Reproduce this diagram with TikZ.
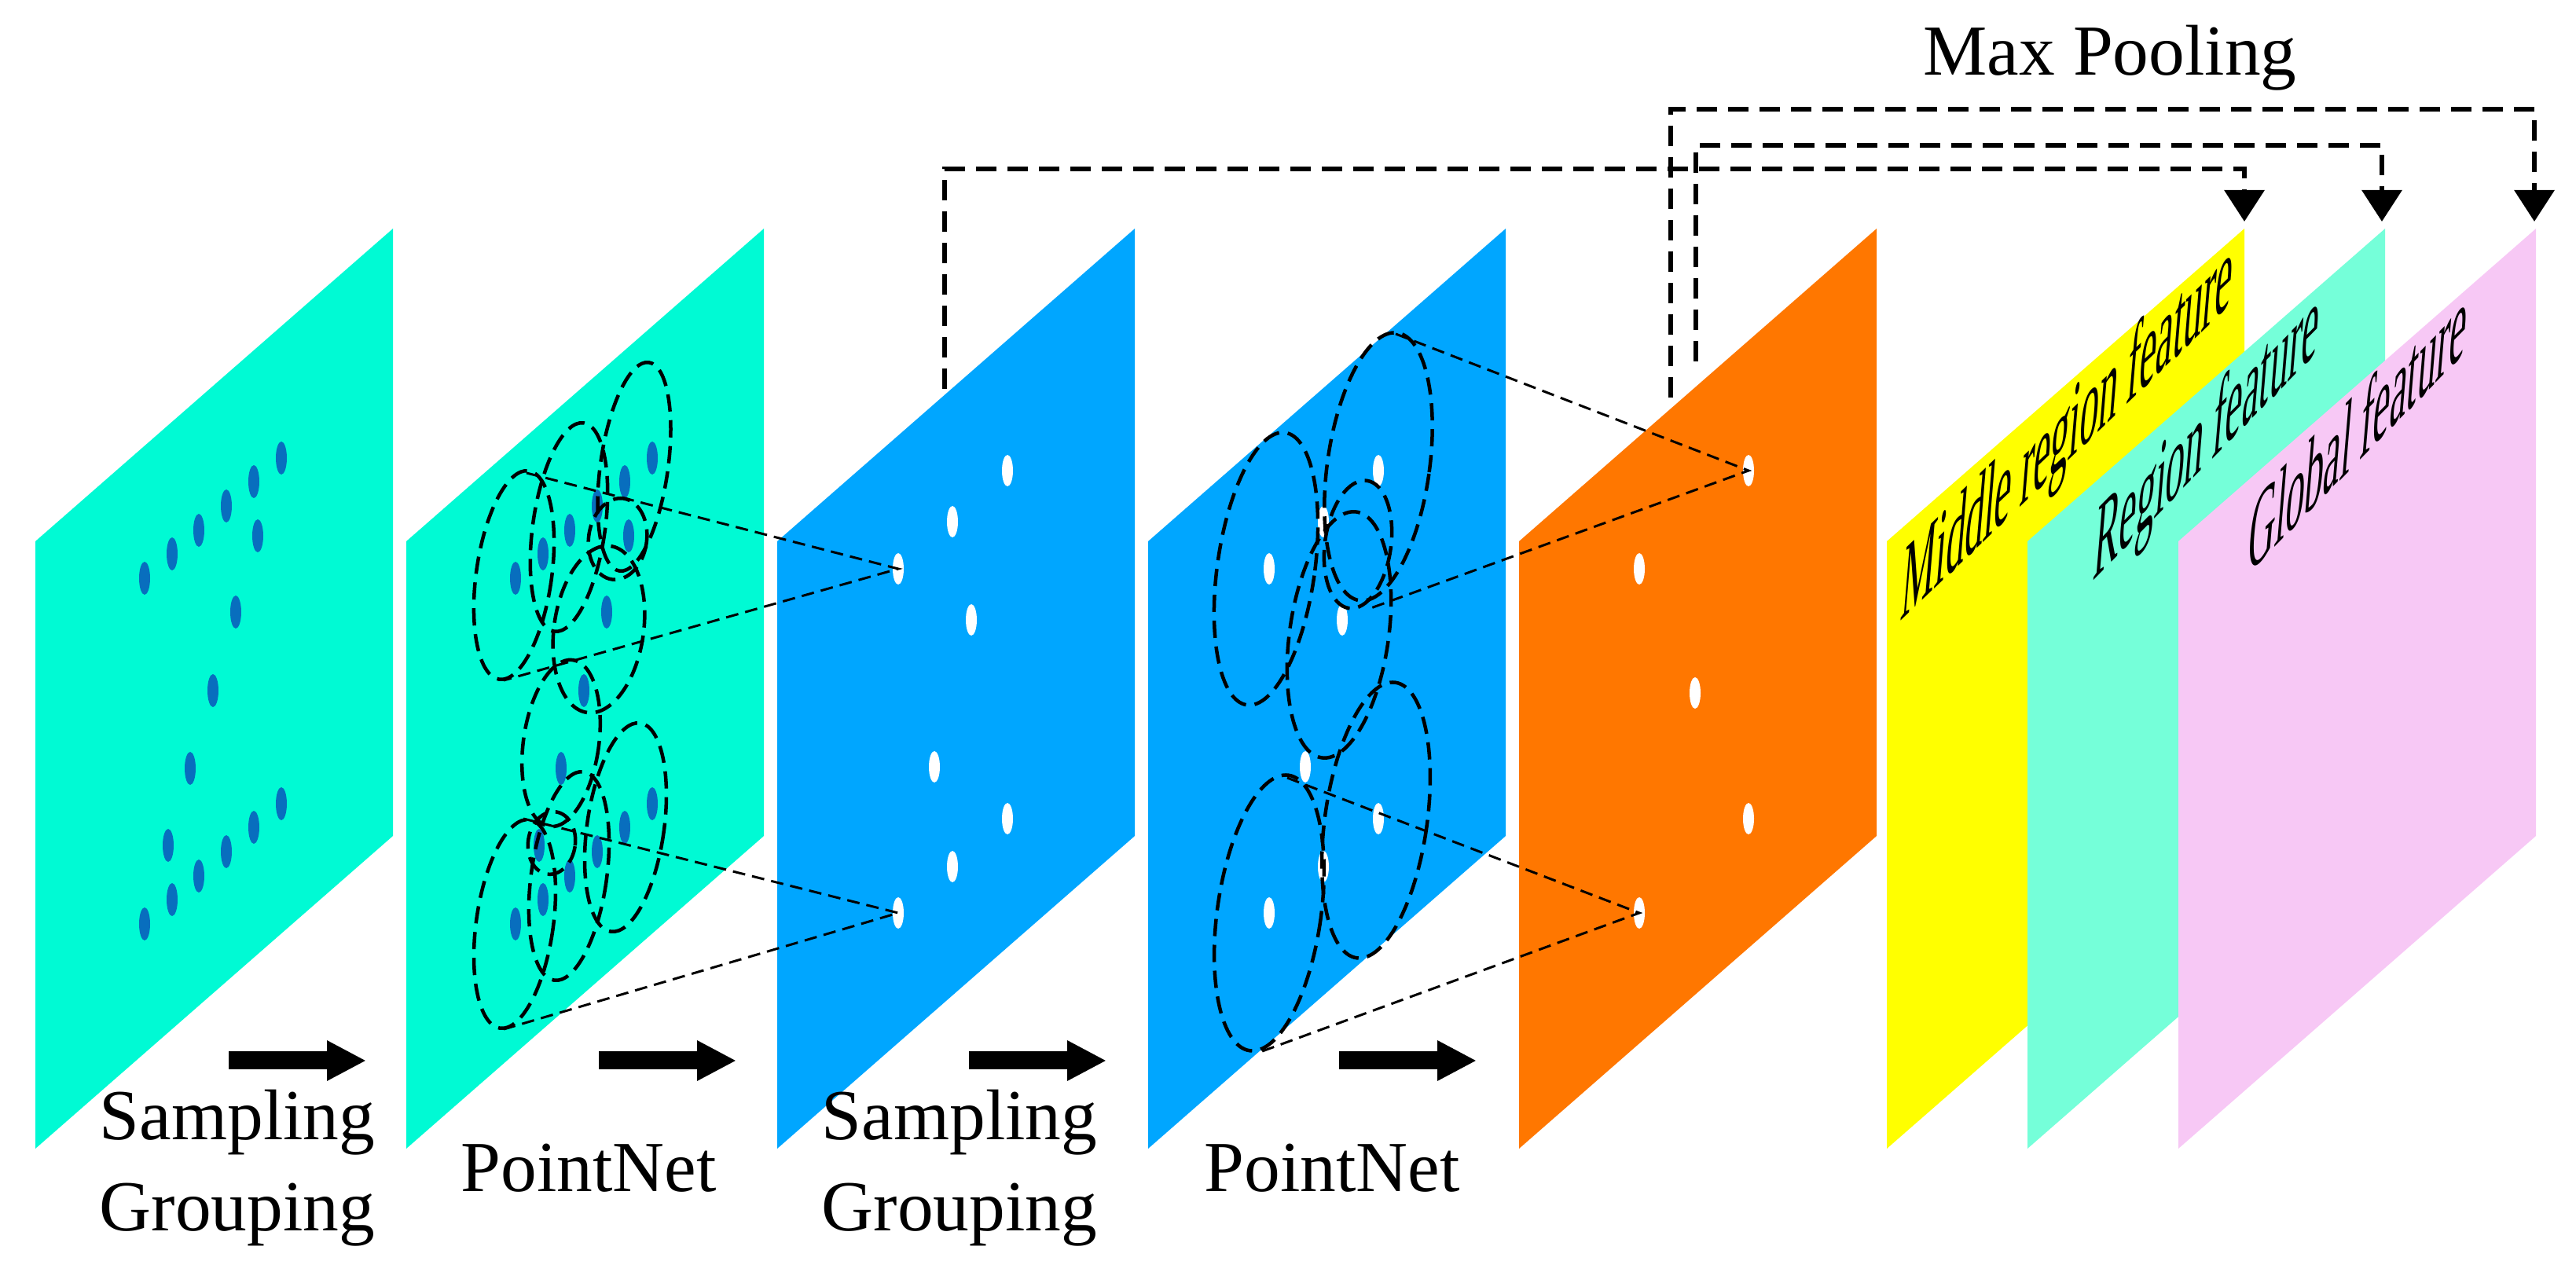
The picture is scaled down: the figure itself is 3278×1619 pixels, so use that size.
\documentclass[tikz,border=0pt]{standalone}
\usepackage{fontspec}
\setmainfont{Liberation Serif}
\usetikzlibrary{arrows.meta}
\definecolor{cyP}{RGB}{0,250,212}
\definecolor{blP}{RGB}{0,166,255}
\definecolor{orP}{RGB}{255,119,0}
\definecolor{yeP}{RGB}{255,255,0}
\definecolor{rgP}{RGB}{117,255,217}
\definecolor{pkP}{RGB}{247,200,245}
\definecolor{dotB}{RGB}{8,110,190}
\newcommand{\pnl}[2]{\fill[#2] (#1,689) -- ++(455,-398) -- ++(0,773) -- ++(-455,398) -- cycle;}
\begin{document}
\begin{tikzpicture}[x=0.1mm,y=-0.1mm,
  circ/.style={draw=black,line width=0.45mm,dash pattern=on 2.2mm off 1.1mm},
  proj/.style={draw=black,line width=0.3mm,dash pattern=on 1.6mm off 0.9mm},
  pool/.style={draw=black,line width=0.65mm,dash pattern=on 2.6mm off 1.4mm,-{Triangle[width=5mm,length=4mm]}},
  big/.style={draw=black,line width=2.3mm,-{Triangle[width=4.8mm,length=5mm]}},
  lab/.style={font=\fontsize{26}{33}\selectfont,align=center},
  feat/.style={font=\fontsize{28}{33}\selectfont,anchor=base}]
\useasboundingbox (0,0) rectangle (3278,1619);
% panels
\pnl{45}{cyP}\pnl{517}{cyP}\pnl{989}{blP}\pnl{1461}{blP}\pnl{1933}{orP}
\pnl{2401}{yeP}\pnl{2580}{rgP}\pnl{2772}{pkP}
% dots panel 1 and 2
\foreach \dx in {0,472}{
 \foreach \p in {(184,736),(219,705),(253,675),(288,644),(323,613),(358,583),(328,682),(300,779),(271,879),(242,978),(184,1176),(219,1145),(253,1115),(288,1084),(323,1053),(358,1023),(214,1076)}{
  \fill[dotB,shift={(\dx,0)}] \p ellipse [x radius=7,y radius=21];
 }}
% white dots panel 3 and 4
\foreach \dx in {0,472}{
 \foreach \p in {(1282,599),(1212,664),(1143,724),(1236,789),(1189,976),(1282,1042),(1212,1103),(1143,1162)}{
  \fill[white,shift={(\dx,0)}] \p ellipse [x radius=7,y radius=20];
 }}
\foreach \p in {(2225,599),(2086,724),(2157,882),(2225,1042),(2086,1162)}{
  \fill[white] \p ellipse [x radius=7,y radius=20];}
% ellipses panel 2
\foreach \c/\rx/\ry in {{(654,732)}/48/134,{(724,671)}/46/134,{(807,594)}/43/134,{(786,686)}/37/52,{(762,801)}/57/107,
  {(655,1176)}/49/134,{(724,1115)}/48/134,{(796,1053)}/49/134,{(702,1073)}/30/40,{(714,946)}/48/107}{
  \draw[circ,rotate around={-8:\c}] \c ellipse [x radius=\rx,y radius=\ry];}
% ellipses panel 4
\foreach \c/\rx/\ry in {{(1611,724)}/62/175,{(1754,594)}/65/172,{(1728,693)}/42/82,{(1704,808)}/63/158,{(1615,1162)}/66/177,{(1751,1044)}/65/177}{
  \draw[circ,rotate around={-8:\c}] \c ellipse [x radius=\rx,y radius=\ry];}
% projection lines
\coordinate (d3a) at (1143,724); \coordinate (d3b) at (1143,1162);
\coordinate (d5a) at (2225,599); \coordinate (d5b) at (2086,1162);
\draw[proj] (670,602) -- (d3a) -- (641,866);
\draw[proj] (666,1042) -- (d3b) -- (641,1310);
\draw[proj] (1776,425) -- (d5a) -- (1739,776);
\draw[proj] (1638,990) -- (d5b) -- (1598,1341);
% max pooling
\coordinate (t1) at (2856,282); \coordinate (t2) at (3031,282); \coordinate (t3) at (3225,282);
\draw[pool] (1202,495) -- (1202,215) -- (2856,215) -- (t1);
\draw[pool] (2158,460) -- (2158,185) -- (3031,185) -- (t2);
\draw[pool] (2126,506) -- (2126,139) -- (3225,139) -- (t3);
\node[lab] (mp) at (2685,74) {Max Pooling};
% big arrows
\foreach \x in {291,762,1233,1704}{\draw[big] (\x,1350) -- ++(175,0);}
\node[lab] (s1) at (302,1487) {Sampling\\Grouping};
\node[lab] (p1) at (749,1487) {PointNet};
\node[lab] (s2) at (1221,1487) {Sampling\\Grouping};
\node[lab] (p2) at (1695,1487) {PointNet};
% feature labels
\begin{scope}[shift={(2628,590)},cm={0.49,0.47,0.12,1.45,(0,0)},transform shape]
\node[feat] (f1) at (0,0) {Middle region feature};\end{scope}
\begin{scope}[shift={(2805,595)},cm={0.49,0.5,0.12,1.45,(0,0)},transform shape]
\node[feat] (f2) at (0,0) {Region feature};\end{scope}
\begin{scope}[shift={(2997,592)},cm={0.49,0.5,0.12,1.45,(0,0)},transform shape]
\node[feat] (f3) at (0,0) {Global feature};\end{scope}
\end{tikzpicture}
\end{document}
